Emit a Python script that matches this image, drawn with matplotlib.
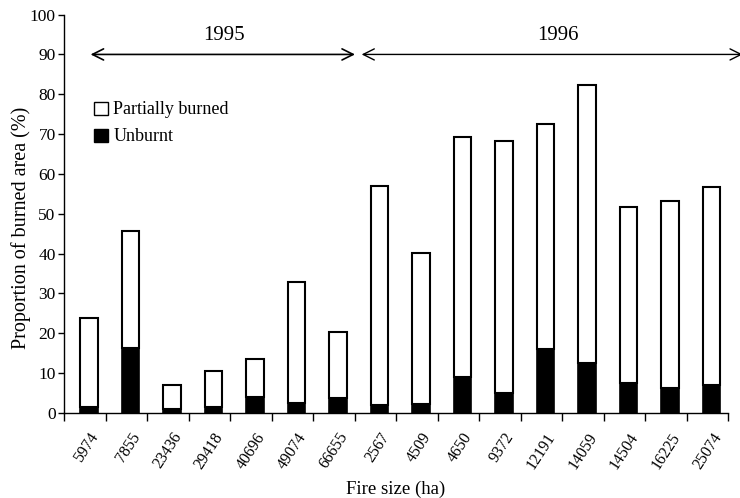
import numpy as np
import matplotlib
matplotlib.use("Agg")
import matplotlib.pyplot as plt
from matplotlib.patches import Patch

fire_sizes = ["5974", "7855", "23436", "29418", "40696", "49074", "66655",
              "2567", "4509", "4650", "9372", "12191", "14059", "14504", "16225", "25074"]
total_burned = [23.8, 45.6, 7.1, 10.5, 13.5, 32.8, 20.4,
                56.9, 40.1, 69.2, 68.3, 72.6, 82.3, 51.8, 53.3, 56.7]
unburnt = [1.6, 16.2, 1.1, 1.5, 4.1, 2.6, 3.7,
           2.1, 2.3, 9.0, 4.9, 16.1, 12.6, 7.6, 6.3, 7.0]
partially = [t - u for t, u in zip(total_burned, unburnt)]
years = ["1995", "1996"]

plt.rcParams['font.family'] = ['Liberation Serif', 'DejaVu Serif']

fig = plt.figure(figsize=(7.4, 4.98), dpi=100)
ax = fig.add_axes([0.0865, 0.1707, 0.8975, 0.8])

x = np.arange(len(fire_sizes))
w = 0.42
ax.bar(x, unburnt, width=w, color='black', edgecolor='black', linewidth=1.2, label='Unburnt')
ax.bar(x, partially, width=w, bottom=unburnt, color='white', edgecolor='black',
       linewidth=1.5, label='Partially burned')

ax.set_xlim(-0.6, 15.4)
ax.set_ylim(0, 100)
ax.set_yticks(np.arange(0, 101, 10))
ax.tick_params(axis='y', labelsize=12.5, length=4, width=1, direction='out', pad=2)

ax.set_xticks(np.arange(len(fire_sizes) + 1) - 0.6)
ax.set_xticklabels([])
ax.tick_params(axis='x', which='major', length=6, width=1, direction='out')
ax.set_xticks(x, minor=True)
ax.set_xticklabels(fire_sizes, minor=True, rotation=57, ha='right',
                   rotation_mode='anchor', fontsize=11.5)
ax.tick_params(axis='x', which='minor', length=0, pad=12)

for s in ['top', 'right']:
    ax.spines[s].set_visible(False)
ax.spines['left'].set_linewidth(1)
ax.spines['bottom'].set_linewidth(1)

ax.set_ylabel('Proportion of burned area (%)', fontsize=14.5)
ax.yaxis.set_label_coords(-0.05, 0.465)
ax.set_xlabel('Fire size (ha)', fontsize=13.5, labelpad=6)

# year arrows
ax.annotate('', xy=(0.04, 90), xytext=(6.41, 90),
            arrowprops=dict(arrowstyle='<->', color='black', lw=1.2,
                            mutation_scale=20, shrinkA=0, shrinkB=0),
            annotation_clip=False)
ax.annotate('', xy=(6.57, 90), xytext=(15.75, 90),
            arrowprops=dict(arrowstyle='<->', color='black', lw=1.0,
                            mutation_scale=20, shrinkA=0, shrinkB=0),
            annotation_clip=False)
ax.text(3.26, 94.8, years[0], ha='center', va='center', fontsize=15)
ax.text(11.3, 94.8, years[1], ha='center', va='center', fontsize=15)

handles = [Patch(facecolor='white', edgecolor='black', linewidth=1.0),
           Patch(facecolor='black', edgecolor='black', linewidth=1.0)]
ax.legend(handles, ['Partially burned', 'Unburnt'], loc='upper left',
          bbox_to_anchor=(0.035, 0.80), frameon=False, fontsize=13,
          handlelength=0.75, handleheight=0.75, handletextpad=0.3,
          labelspacing=0.55, borderaxespad=0)

fig.savefig('out.png', dpi=100)
